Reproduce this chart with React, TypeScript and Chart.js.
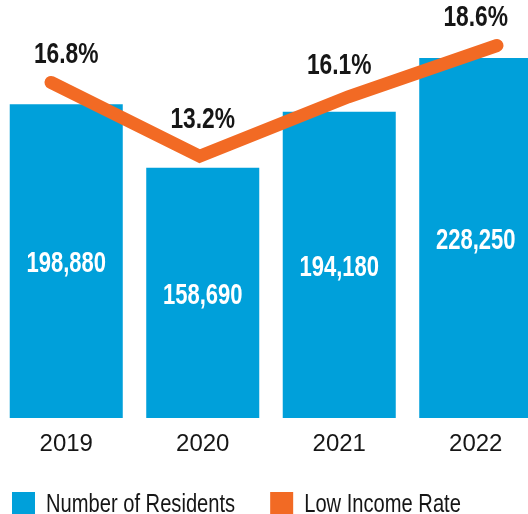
import React, { useEffect, useRef } from "react";
import { Chart, registerables } from "chart.js";

Chart.register(...registerables);

const years = ["2019", "2020", "2021", "2022"];
const residents = [198880, 158690, 194180, 228250];
const lowIncomeRate = [16.8, 13.2, 16.1, 18.6];
const seriesNames = ["Number of Residents", "Low Income Rate"];

const BLUE = "#00A0DA";
const ORANGE = "#F26A24";
const TEXT = "#161616";
const FONT = '"Liberation Sans", Arial, sans-serif';
const CONDENSE = 0.76;

function condensedText(ctx: CanvasRenderingContext2D, text: string, x: number, y: number) {
  ctx.save();
  ctx.translate(x, y);
  ctx.scale(CONDENSE, 1);
  ctx.fillText(text, 0, 0);
  ctx.restore();
}

const labelPlugin = {
  id: "customLabels",
  afterDatasetsDraw(chart: any) {
    const ctx = chart.ctx;
    const barMeta = chart.getDatasetMeta(0);
    const lineMeta = chart.getDatasetMeta(1);
    ctx.save();
    ctx.textAlign = "center";
    ctx.textBaseline = "middle";
    ctx.fillStyle = "#ffffff";
    ctx.font = `bold 29px ${FONT}`;
    barMeta.data.forEach((el: any, i: number) => {
      const y = (el.y + el.base) / 2 + 3;
      condensedText(ctx, residents[i].toLocaleString("en-US"), el.x, y);
    });
    const pts = lineMeta.data.map((p: any) => ({ x: p.x, y: p.y }));
    const lineYAt = (x: number) => {
      for (let k = 0; k < pts.length - 1; k++) {
        const a = pts[k];
        const b = pts[k + 1];
        if (x >= a.x && x <= b.x) {
          return a.y + ((x - a.x) / (b.x - a.x)) * (b.y - a.y);
        }
      }
      return x < pts[0].x ? pts[0].y : pts[pts.length - 1].y;
    };
    ctx.fillStyle = TEXT;
    ctx.font = `bold 30px ${FONT}`;
    barMeta.data.forEach((el: any, i: number) => {
      const y = lineYAt(el.x) - 35;
      condensedText(ctx, lowIncomeRate[i].toFixed(1) + "%", el.x, y);
    });
    ctx.restore();
  },
  afterDraw(chart: any) {
    const ctx = chart.ctx;
    const colors = [BLUE, ORANGE];
    ctx.save();
    ctx.font = `26.5px ${FONT}`;
    ctx.textAlign = "left";
    ctx.textBaseline = "alphabetic";
    let x = 14;
    const boxTop = 492;
    const box = 23;
    chart.data.datasets.forEach((ds: any, i: number) => {
      ctx.fillStyle = colors[i];
      ctx.fillRect(x, boxTop, box, 22);
      ctx.fillStyle = TEXT;
      const tx = x + box + 11;
      condensedText(ctx, ds.label, tx, 512);
      x = tx + ctx.measureText(ds.label).width * CONDENSE + 35;
    });
    ctx.restore();
  },
};

export default function App() {
  const canvasRef = useRef<HTMLCanvasElement | null>(null);

  useEffect(() => {
    if (!canvasRef.current) return;
    const chart = new Chart(canvasRef.current, {
      type: "bar",
      data: {
        labels: years,
        datasets: [
          {
            type: "bar",
            label: seriesNames[0],
            data: residents,
            backgroundColor: BLUE,
            borderWidth: 0,
            grouped: false,
            categoryPercentage: 1,
            barPercentage: 0.828,
            xAxisID: "x",
            yAxisID: "y",
            order: 2,
          } as any,
          {
            type: "line",
            label: seriesNames[1],
            data: lowIncomeRate.map((v, i) => ({ x: i, y: v })),
            borderColor: ORANGE,
            backgroundColor: ORANGE,
            borderWidth: 13,
            borderCapStyle: "round",
            borderJoinStyle: "miter",
            pointRadius: 0,
            tension: 0,
            xAxisID: "xLine",
            yAxisID: "y1",
            order: 1,
          } as any,
        ],
      },
      options: {
        responsive: false,
        animation: false,
        devicePixelRatio: 1,
        layout: { padding: { top: 0, bottom: 43.2, left: 0, right: 0 } },
        plugins: {
          legend: { display: false },
          tooltip: { enabled: false },
        },
        scales: {
          x: {
            type: "category",
            offset: true,
            grid: { display: false, drawTicks: false },
            border: { display: false },
            ticks: {
              color: TEXT,
              padding: 12,
              font: { family: FONT, size: 24 },
            },
          },
          xLine: {
            type: "linear",
            display: false,
            offset: false,
            grid: { offset: false },
            min: -0.3565,
            max: 3.316,
          },
          y: {
            display: false,
            min: 0,
            max: 265000,
          },
          y1: {
            display: false,
            min: 0.43,
            max: 20.82,
          },
        },
      } as any,
      plugins: [labelPlugin],
    });
    return () => chart.destroy();
  }, []);

  return (
    <div
      style={{
        position: "fixed",
        left: 0,
        top: 0,
        width: 528,
        height: 514,
        overflow: "hidden",
        background: "#ffffff",
      }}
    >
      <canvas
        ref={canvasRef}
        width={546}
        height={514}
        style={{ position: "absolute", left: -2, top: 0, width: 546, height: 514 }}
      />
    </div>
  );
}
